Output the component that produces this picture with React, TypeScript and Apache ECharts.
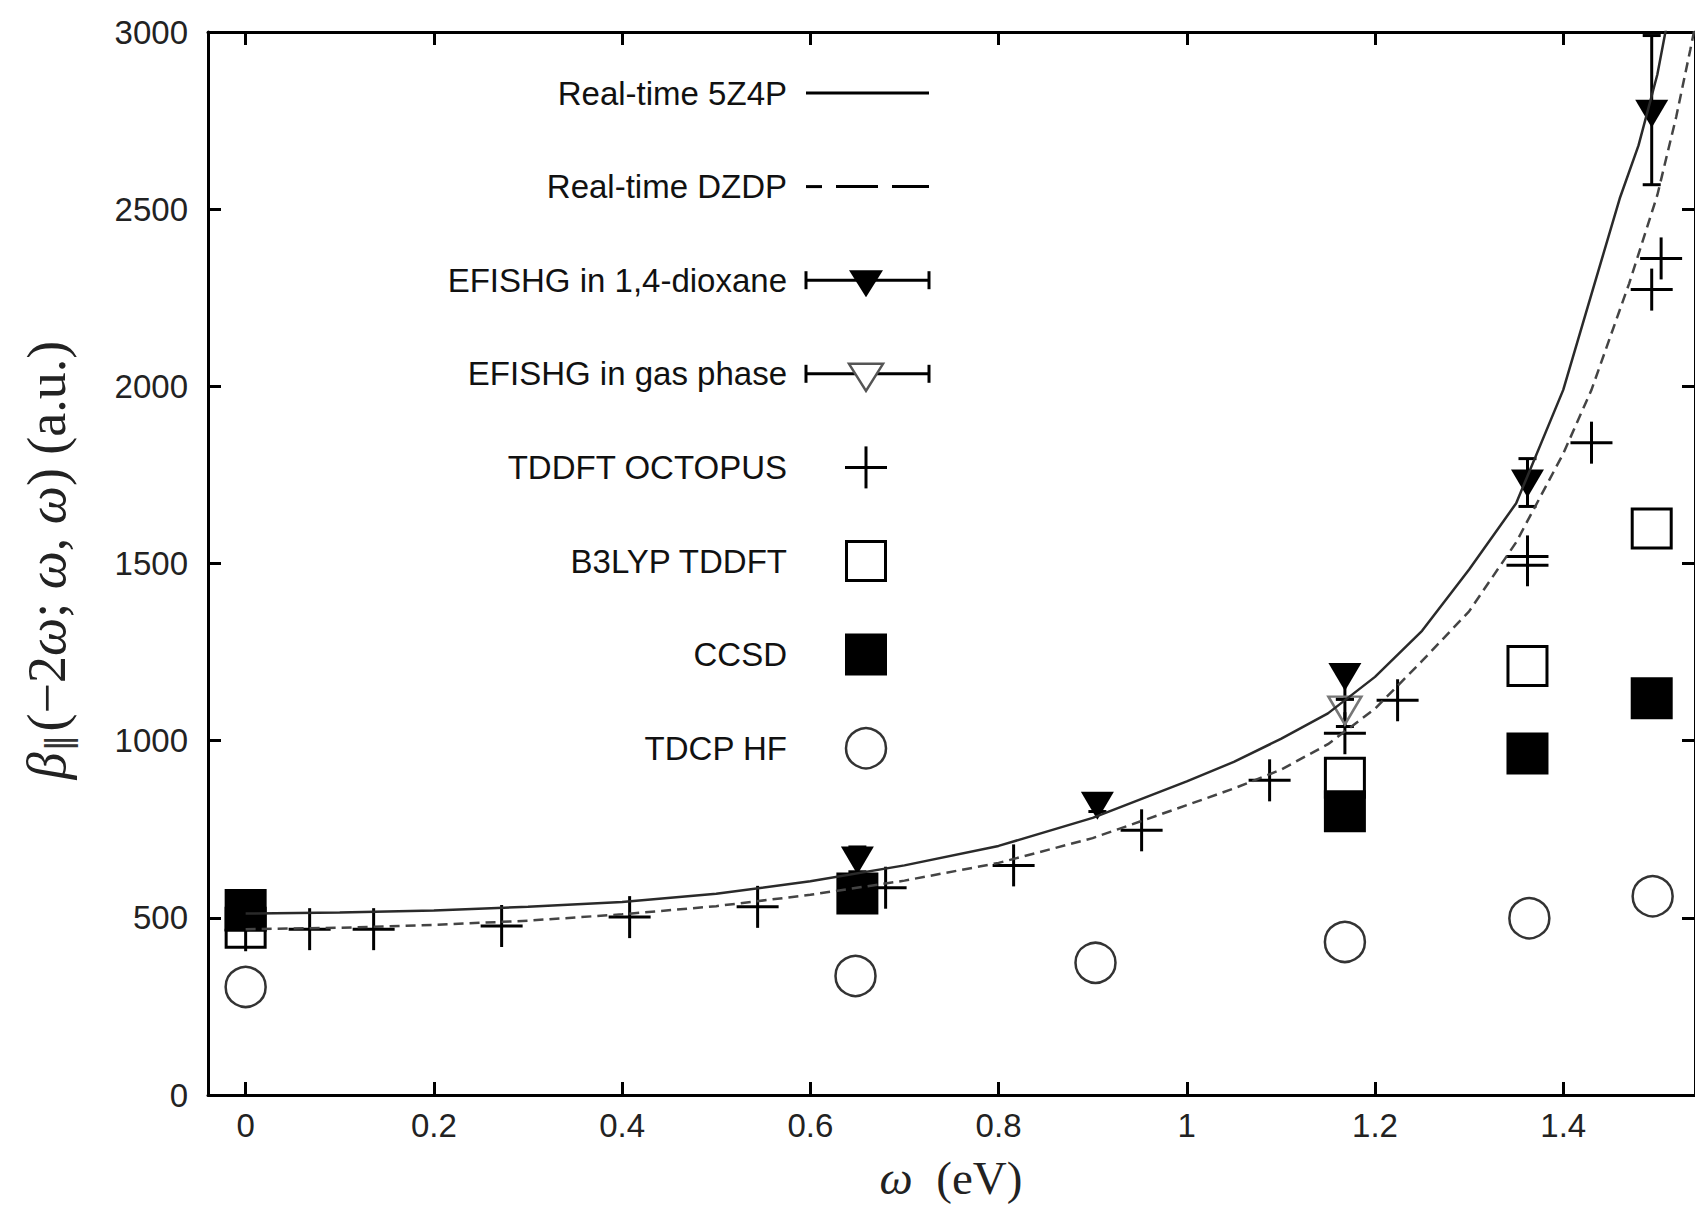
import React, { useEffect, useRef } from "react";
import * as echarts from "echarts";

// ---------- data ----------
const XTICKS = [0, 0.2, 0.4, 0.6, 0.8, 1.0, 1.2, 1.4];

const OMEGA_5Z4P = [0, 0.1, 0.2, 0.3, 0.4, 0.5, 0.6, 0.7, 0.8, 0.9, 1.0, 1.05, 1.1, 1.15, 1.2, 1.25, 1.3, 1.35, 1.4, 1.43, 1.46, 1.48, 1.5, 1.51, 1.52];
const BETA_5Z4P = [512, 515, 521, 531, 545, 568, 603, 648, 703, 782, 885, 940, 1005, 1077, 1180, 1310, 1483, 1670, 1990, 2260, 2530, 2680, 2880, 3020, 3180];

const OMEGA_DZDP = [0, 0.1, 0.2, 0.3, 0.4, 0.5, 0.6, 0.7, 0.8, 0.9, 1.0, 1.05, 1.1, 1.15, 1.2, 1.25, 1.3, 1.35, 1.4, 1.43, 1.47, 1.5, 1.52, 1.535, 1.545];
const BETA_DZDP = [468, 472, 480, 492, 510, 533, 565, 605, 655, 725, 818, 865, 918, 990, 1090, 1225, 1365, 1560, 1810, 1990, 2290, 2540, 2760, 2950, 3080];

const OMEGA_DIOX = [0.65, 0.905, 1.168, 1.362, 1.494];
const BETA_DIOX = [662, 816, 1180, 1726, 2769];
const DIOX_LOW = [630, 800, 1117, 1661, 2569];
const DIOX_HIGH = [700, 830, 1205, 1796, 2990];

const OMEGA_GAS = [1.168];
const BETA_GAS = [1085];
const GAS_LOW = [1040];
const GAS_HIGH = [1117];

const OMEGA_OCTOPUS = [0, 0.068, 0.136, 0.272, 0.408, 0.544, 0.68, 0.816, 0.952, 1.088, 1.168, 1.224, 1.362, 1.362, 1.43, 1.494, 1.504];
const BETA_OCTOPUS = [465, 468, 468, 477, 502, 531, 585, 648, 747, 888, 1021, 1114, 1495, 1520, 1841, 2273, 2361];

const OMEGA_B3LYP = [0, 1.168, 1.362, 1.494];
const BETA_B3LYP = [472, 895, 1211, 1599];

const OMEGA_CCSD = [0, 0.65, 1.168, 1.362, 1.494];
const BETA_CCSD = [522, 569, 801, 964, 1120];

const OMEGA_TDCP = [0, 0.648, 0.903, 1.168, 1.364, 1.495];
const BETA_TDCP = [305, 336, 373, 432, 499, 561];

const LEGEND_LABELS = [
  "Real-time 5Z4P",
  "Real-time DZDP",
  "EFISHG in 1,4-dioxane",
  "EFISHG in gas phase",
  "TDDFT OCTOPUS",
  "B3LYP TDDFT",
  "CCSD",
  "TDCP HF",
];

const zip = (xs: number[], ys: number[]) => xs.map((x, i) => [x, ys[i]]);

// ---------- render helpers ----------
const errRender = (params: any, api: any) => {
  const x = api.value(0);
  const lo = api.coord([x, api.value(1)]);
  const hi = api.coord([x, api.value(2)]);
  const cw = 9;
  const st = { stroke: "#000", lineWidth: 3 };
  return {
    type: "group",
    children: [
      { type: "line", shape: { x1: lo[0], y1: lo[1], x2: hi[0], y2: hi[1] }, style: st },
      { type: "line", shape: { x1: lo[0] - cw, y1: lo[1], x2: lo[0] + cw, y2: lo[1] }, style: st },
      { type: "line", shape: { x1: hi[0] - cw, y1: hi[1], x2: hi[0] + cw, y2: hi[1] }, style: st },
    ],
  };
};

const plusRender = (params: any, api: any) => {
  const p = api.coord([api.value(0), api.value(1)]);
  const h = 21;
  const st = { stroke: "#000", lineWidth: 3 };
  return {
    type: "group",
    children: [
      { type: "line", shape: { x1: p[0] - h, y1: p[1], x2: p[0] + h, y2: p[1] }, style: st },
      { type: "line", shape: { x1: p[0], y1: p[1] - h, x2: p[0], y2: p[1] + h }, style: st },
    ],
  };
};

function buildLegend() {
  const els: any[] = [];
  const textX = 787;
  const x1 = 806;
  const x2 = 929;
  const mx = 866;
  const y0 = 93;
  const dy = 93.6;
  LEGEND_LABELS.forEach((lab, i) => {
    const y = y0 + i * dy;
    els.push({
      type: "text",
      x: textX,
      y,
      style: {
        text: lab,
        font: '33px "Liberation Sans"',
        fill: "#111",
        align: "right",
        verticalAlign: "middle",
        textAlign: "right",
        textVerticalAlign: "middle",
      },
    });
    const st = { stroke: "#000", lineWidth: 3 };
    if (i === 0) {
      els.push({ type: "line", shape: { x1, y1: y, x2, y2: y }, style: st });
    } else if (i === 1) {
      els.push({ type: "line", shape: { x1, y1: y, x2: x1 + 16, y2: y }, style: st });
      els.push({ type: "line", shape: { x1: x1 + 30, y1: y, x2: x1 + 72, y2: y }, style: st });
      els.push({ type: "line", shape: { x1: x1 + 86, y1: y, x2, y2: y }, style: st });
    } else if (i === 2 || i === 3) {
      els.push({ type: "line", shape: { x1, y1: y, x2, y2: y }, style: st });
      els.push({ type: "line", shape: { x1, y1: y - 9, x2: x1, y2: y + 9 }, style: st });
      els.push({ type: "line", shape: { x1: x2, y1: y - 9, x2, y2: y + 9 }, style: st });
      els.push({
        type: "polygon",
        shape: { points: [[mx - 17, y - 10], [mx + 17, y - 10], [mx, y + 17]] },
        style: i === 2 ? { fill: "#000" } : { fill: "#fff", stroke: "#555", lineWidth: 2.5 },
      });
    } else if (i === 4) {
      els.push({ type: "line", shape: { x1: mx - 21, y1: y, x2: mx + 21, y2: y }, style: st });
      els.push({ type: "line", shape: { x1: mx, y1: y - 21, x2: mx, y2: y + 21 }, style: st });
    } else if (i === 5) {
      els.push({ type: "rect", shape: { x: mx - 19.5, y: y - 19.5, width: 39, height: 39 }, style: { fill: "none", stroke: "#000", lineWidth: 3 } });
    } else if (i === 6) {
      els.push({ type: "rect", shape: { x: mx - 21, y: y - 21, width: 42, height: 42 }, style: { fill: "#000" } });
    } else {
      els.push({ type: "circle", shape: { cx: mx, cy: y, r: 20 }, style: { fill: "none", stroke: "#333", lineWidth: 2.5 } });
    }
  });
  return els;
}

export default function App() {
  const ref = useRef<HTMLDivElement>(null);
  useEffect(() => {
    if (!ref.current) return;
    document.documentElement.style.overflow = "hidden";
    const chart = echarts.init(ref.current, undefined, { renderer: "svg" });
    const tickStyle = { show: true, inside: true, length: 13, lineStyle: { color: "#000", width: 3 } };
    const axisLineStyle = { show: true, onZero: false, lineStyle: { color: "#000", width: 3 } };
    const serif = '"Liberation Serif", "DejaVu Serif", serif';
    const option: any = {
      animation: false,
      backgroundColor: "#ffffff",
      grid: { left: 208, top: 32, right: -8, bottom: 113, containLabel: false },
      xAxis: [
        {
          type: "value",
          min: -0.04,
          max: 1.54,
          position: "bottom",
          axisLine: axisLineStyle,
          axisTick: { ...tickStyle, customValues: XTICKS },
          splitLine: { show: false },
          axisLabel: {
            customValues: XTICKS,
            margin: 14,
            color: "#222",
            fontSize: 33,
            fontFamily: '"Liberation Sans"',
            formatter: (v: number) => String(+v.toFixed(1)),
          },
        },
        {
          type: "value",
          min: -0.04,
          max: 1.54,
          position: "top",
          axisLine: axisLineStyle,
          axisTick: { ...tickStyle, customValues: XTICKS },
          splitLine: { show: false },
          axisLabel: { show: false },
        },
      ],
      yAxis: [
        {
          type: "value",
          min: 0,
          max: 3000,
          interval: 500,
          position: "left",
          axisLine: axisLineStyle,
          axisTick: tickStyle,
          splitLine: { show: false },
          axisLabel: {
            margin: 20,
            color: "#222",
            fontSize: 33,
            fontFamily: '"Liberation Sans"',
            formatter: (v: number) => String(v),
          },
        },
        {
          type: "value",
          min: 0,
          max: 3000,
          interval: 500,
          position: "right",
          axisLine: axisLineStyle,
          axisTick: tickStyle,
          splitLine: { show: false },
          axisLabel: { show: false },
        },
      ],
      graphic: [
        ...buildLegend(),
        {
          type: "text",
          x: 951,
          y: 1178,
          style: {
            text: "{g|ω}{n|  (eV)}",
            align: "center",
            verticalAlign: "middle",
            textAlign: "center",
            textVerticalAlign: "middle",
            fill: "#222",
            rich: {
              g: { fontFamily: serif, fontSize: 47, fontStyle: "italic", fill: "#222" },
              n: { fontFamily: serif, fontSize: 47, fill: "#222" },
            },
          },
        },
        {
          type: "text",
          x: 47,
          y: 560,
          rotation: Math.PI / 2,
          style: {
            text: "{g|β}{s|‖}{n|(−2}{g|ω}{n|; }{g|ω}{n|, }{g|ω}{n|) (a.u.)}",
            align: "center",
            verticalAlign: "middle",
            textAlign: "center",
            textVerticalAlign: "middle",
            fill: "#222",
            rich: {
              g: { fontFamily: serif, fontSize: 54, fontStyle: "italic", fill: "#222" },
              n: { fontFamily: serif, fontSize: 54, fill: "#222" },
              s: { fontFamily: '"DejaVu Sans", sans-serif', fontSize: 34, fill: "#333", verticalAlign: "bottom", padding: [22, 3, 0, 1] },
            },
          },
        },
      ],
      series: [
        {
          type: "line",
          name: "Real-time 5Z4P",
          data: zip(OMEGA_5Z4P, BETA_5Z4P),
          showSymbol: false,
          symbol: "none",
          clip: true,
          lineStyle: { color: "#2a2a2a", width: 2.5 },
        },
        {
          type: "line",
          name: "Real-time DZDP",
          data: zip(OMEGA_DZDP, BETA_DZDP),
          showSymbol: false,
          symbol: "none",
          clip: true,
          lineStyle: { color: "#444", width: 2.5, type: [10, 6] },
        },
        {
          type: "custom",
          name: "EFISHG in 1,4-dioxane (err)",
          data: OMEGA_DIOX.map((x, i) => [x, DIOX_LOW[i], DIOX_HIGH[i]]),
          renderItem: errRender,
          encode: { x: 0, y: [1, 2] },
        },
        {
          type: "scatter",
          name: "EFISHG in 1,4-dioxane",
          data: zip(OMEGA_DIOX, BETA_DIOX),
          symbol: "triangle",
          symbolRotate: 180,
          symbolSize: [33, 28],
          itemStyle: { color: "#000", opacity: 1 },
        },
        {
          type: "custom",
          name: "EFISHG in gas phase (err)",
          data: OMEGA_GAS.map((x, i) => [x, GAS_LOW[i], GAS_HIGH[i]]),
          renderItem: errRender,
          encode: { x: 0, y: [1, 2] },
        },
        {
          type: "scatter",
          name: "EFISHG in gas phase",
          data: zip(OMEGA_GAS, BETA_GAS),
          symbol: "triangle",
          symbolRotate: 180,
          symbolSize: [33, 28],
          itemStyle: { color: "rgba(0,0,0,0)", borderColor: "#777", borderWidth: 2.5, opacity: 1 },
        },
        {
          type: "custom",
          name: "TDDFT OCTOPUS",
          data: zip(OMEGA_OCTOPUS, BETA_OCTOPUS),
          renderItem: plusRender,
          encode: { x: 0, y: 1 },
        },
        {
          type: "scatter",
          name: "B3LYP TDDFT",
          data: zip(OMEGA_B3LYP, BETA_B3LYP),
          symbol: "rect",
          symbolSize: 39,
          itemStyle: { color: "rgba(0,0,0,0)", borderColor: "#000", borderWidth: 3, opacity: 1 },
        },
        {
          type: "scatter",
          name: "CCSD",
          data: zip(OMEGA_CCSD, BETA_CCSD),
          symbol: "rect",
          symbolSize: 42,
          itemStyle: { color: "#000", opacity: 1 },
        },
        {
          type: "scatter",
          name: "TDCP HF",
          data: zip(OMEGA_TDCP, BETA_TDCP),
          symbol: "circle",
          symbolSize: 40,
          itemStyle: { color: "rgba(0,0,0,0)", borderColor: "#333", borderWidth: 2.5, opacity: 1 },
        },
      ],
    };
    chart.setOption(option);
    return () => chart.dispose();
  }, []);
  return (
    <div
      ref={ref}
      style={{ position: "absolute", left: 0, top: 0, width: 1695, height: 1208, background: "#fff" }}
    />
  );
}
